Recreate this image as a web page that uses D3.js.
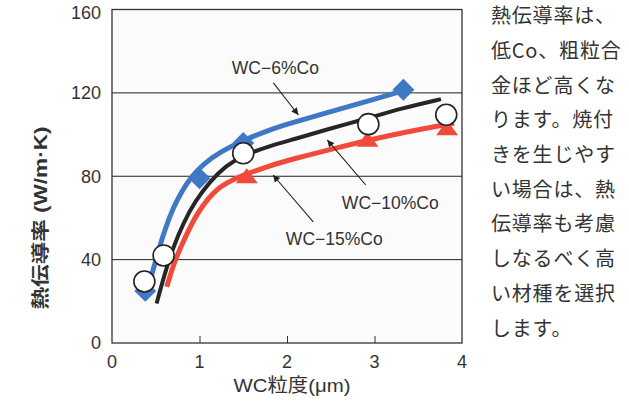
<!DOCTYPE html>
<html><head><meta charset="utf-8">
<script src="https://cdn.jsdelivr.net/npm/d3@7"></script>
<style>
html,body{margin:0;padding:0;background:#fff;}
svg{display:block;}
</style></head>
<body>
<svg id="c" width="629" height="401"></svg>
<script>
// ---- data ----
const xTicks = [0, 1, 2, 3, 4];
const yTicks = [0, 40, 80, 120, 160];
const gridValues = [40, 80, 120];
// measured points
const co6Points = [[0.38, 25], [1.0, 79], [1.5, 96], [3.33, 121.5]];
const co10Points = [[0.37, 29.5], [0.59, 42], [1.5, 91], [2.93, 105], [3.82, 109.5]];
const co15Points = [[1.54, 79.5], [2.92, 97], [3.83, 102.5]];
// fitted curves
const co6Curve = [[0.38, 21], [0.5, 40], [0.6, 54], [0.7, 65], [0.8, 73], [0.91, 80], [1.05, 86], [1.23, 91.5], [1.5, 97.2], [1.77, 101.8], [2.0, 105], [2.5, 111], [3.0, 117], [3.33, 121]];
const co10Curve = [[0.51, 19], [0.6, 33], [0.7, 46], [0.82, 58], [0.95, 68], [1.12, 77.5], [1.3, 85], [1.5, 90], [1.8, 94.5], [2.1, 98], [2.5, 103], [2.9, 107.5], [3.3, 112.5], [3.76, 117]];
const co15Curve = [[0.626, 27], [0.72, 40], [0.85, 52], [0.97, 62], [1.1, 69.5], [1.23, 75], [1.4, 78.8], [1.55, 81.3], [1.8, 85], [2.04, 88], [2.6, 94], [3.2, 100], [3.91, 105.5]];
const seriesNames = ["WC\u22126%Co", "WC\u221210%Co", "WC\u221215%Co"];
// annotation label positions (data units) and arrows
const labelPos = [[1.867, 132], [3.18, 67.2], [2.54, 49.9]];
const arrowFrom = [[1.844, 124.8], [2.90, 75.8], [2.30, 58.1]];
const arrowTo = [[2.13, 109.4], [2.46, 97.4], [1.84, 80.6]];
const xLabel = "WC粒度(μm)";
const yLabel = "熱伝導率 (W/m·K)";
const noteLines = ["熱伝導率は、", "低Co、粗粒合", "金ほど高くな", "ります。焼付", "きを生じやす", "い場合は、熱", "伝導率も考慮", "しなるべく高", "い材種を選択", "します。"];

// ---- drawing ----
const svg = d3.select("#c");
const x = d3.scaleLinear().domain([0, 4]).range([112, 462]);
const y = d3.scaleLinear().domain([0, 160]).range([343, 9.5]);
const txt = "#333";
const blue = "#3f78c4", red = "#f04a3b", black = "#262626";

svg.append("defs").append("marker")
  .attr("id", "ah").attr("viewBox", "0 0 10 10").attr("refX", 10).attr("refY", 5)
  .attr("markerWidth", 9).attr("markerHeight", 7).attr("markerUnits", "userSpaceOnUse")
  .attr("orient", "auto")
  .append("path").attr("d", "M0,0 L10,5 L0,10 Z").attr("fill", "#222");

// plot background
svg.append("rect").attr("x", x(0)).attr("y", y(160)).attr("width", x(4) - x(0)).attr("height", y(0) - y(160))
  .attr("fill", "#fbfbfb");

// grid
svg.append("g").selectAll("line").data(gridValues).join("line")
  .attr("x1", x(0)).attr("x2", x(4)).attr("y1", d => y(d)).attr("y2", d => y(d))
  .attr("stroke", "#222").attr("stroke-width", 1);

// bottom inner ticks
const xAxis = d3.axisBottom(x).tickValues([1, 2, 3]).tickSize(-7).tickFormat("");
const gx = svg.append("g").attr("transform", `translate(0,${y(0)})`).call(xAxis);
gx.select(".domain").remove();
gx.selectAll("line").attr("stroke", "#333");

// frame
svg.append("rect").attr("x", x(0)).attr("y", y(160)).attr("width", x(4) - x(0)).attr("height", y(0) - y(160))
  .attr("fill", "none").attr("stroke", "#333").attr("stroke-width", 1.3);

// tick labels
svg.append("g").selectAll("text").data(yTicks).join("text")
  .attr("x", 101).attr("y", d => y(d)).attr("dy", d => d === 160 ? "0.55em" : "0.35em")
  .attr("text-anchor", "end").attr("font-family", "Liberation Sans, Arial, sans-serif")
  .attr("font-size", 18).attr("fill", txt).text(d => d);
svg.append("g").selectAll("text").data(xTicks).join("text")
  .attr("x", d => x(d)).attr("y", 368)
  .attr("text-anchor", "middle").attr("font-family", "Liberation Sans, Arial, sans-serif")
  .attr("font-size", 18).attr("fill", txt).text(d => d);

// axis titles
svg.append("text").attr("x", 292).attr("y", 392).attr("text-anchor", "middle")
  .attr("font-family", "Liberation Sans, 'Noto Sans CJK JP', sans-serif").attr("font-size", 19)
  .attr("textLength", 117).attr("lengthAdjust", "spacingAndGlyphs")
  .attr("fill", txt).text(xLabel);
svg.append("text").attr("transform", "translate(47,218) rotate(-90)").attr("text-anchor", "middle")
  .attr("font-family", "Liberation Sans, 'Noto Sans CJK JP', sans-serif").attr("font-size", 18)
  .attr("font-weight", "bold")
  .attr("textLength", 183).attr("lengthAdjust", "spacingAndGlyphs")
  .attr("fill", txt).text(yLabel);

// curves
const line = d3.line().x(d => x(d[0])).y(d => y(d[1])).curve(d3.curveBasis);
const curves = [[co6Curve, blue, 5], [co10Curve, black, 4], [co15Curve, red, 5]];
svg.append("g").selectAll("path").data(curves).join("path")
  .attr("d", d => line(d[0])).attr("fill", "none").attr("stroke", d => d[1])
  .attr("stroke-width", d => d[2]).attr("stroke-linecap", "butt");

// markers
svg.append("g").selectAll("path").data(co6Points).join("path")
  .attr("d", d3.symbol(d3.symbolSquare, 240))
  .attr("transform", d => `translate(${x(d[0])},${y(d[1])}) rotate(45)`)
  .attr("fill", blue);
svg.append("g").selectAll("path").data(co15Points).join("path")
  .attr("d", "M0,-9 L11,6 L-11,6 Z")
  .attr("transform", d => `translate(${x(d[0])},${y(d[1])})`)
  .attr("fill", red);
svg.append("g").selectAll("circle").data(co10Points).join("circle")
  .attr("cx", d => x(d[0])).attr("cy", d => y(d[1])).attr("r", 10.5)
  .attr("fill", "#fff").attr("stroke", "#222").attr("stroke-width", 1.6);

// annotations
svg.append("g").selectAll("line").data(arrowFrom).join("line")
  .attr("x1", d => x(d[0])).attr("y1", d => y(d[1]))
  .attr("x2", (d, i) => x(arrowTo[i][0])).attr("y2", (d, i) => y(arrowTo[i][1]))
  .attr("stroke", "#222").attr("stroke-width", 1.1).attr("marker-end", "url(#ah)");
svg.append("g").selectAll("text").data(seriesNames).join("text")
  .attr("x", (d, i) => x(labelPos[i][0])).attr("y", (d, i) => y(labelPos[i][1])).attr("dy", "0.35em")
  .attr("text-anchor", "middle").attr("font-family", "Liberation Sans, Arial, sans-serif")
  .attr("font-size", 17.5).attr("fill", txt).text(d => d);

// side note
svg.append("g").selectAll("text").data(noteLines).join("text")
  .attr("x", 491).attr("y", (d, i) => 16 + i * 34.7).attr("dy", "0.36em")
  .attr("font-family", "'Noto Sans CJK JP', sans-serif").attr("font-size", 20)
  .attr("letter-spacing", 0.8)
  .attr("fill", txt).text(d => d);
</script>
</body></html>
